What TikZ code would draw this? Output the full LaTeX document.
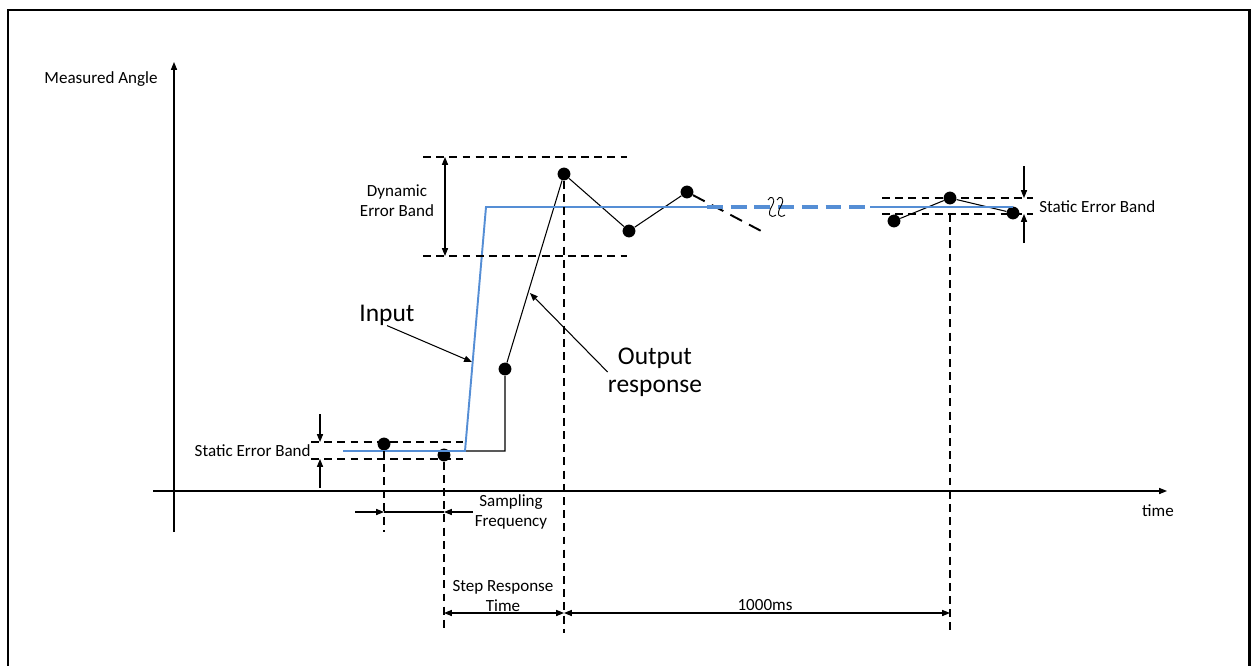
\documentclass[tikz,border=0pt]{standalone}
\usepackage{fontspec}
\setmainfont{Carlito}
\usepackage{tikz}
\usetikzlibrary{arrows.meta, positioning, calc}

\definecolor{inblue}{RGB}{85,142,213}

\begin{document}
\begin{tikzpicture}[x=0.02cm, y=-0.02cm,
    tip/.style={-{Triangle[length=4.5pt,width=3.5pt]}},
    dim/.style={line width=0.6pt, {Triangle[length=4.5pt,width=3.5pt]}-{Triangle[length=4.5pt,width=3.5pt]}},
    band/.style={line width=1.3pt, dash pattern=on 4.5pt off 3pt},
    dot/.style={circle, fill, inner sep=0pt, minimum size=7.3pt},
    lbl/.style={font=\fontsize{9.7}{11.3}\selectfont, align=center, inner sep=0pt},
    big/.style={font=\fontsize{14.5}{16}\selectfont, align=center, inner sep=0pt},
    input/.style={inblue, line width=1.1pt}]
        \useasboundingbox (0,0) rectangle (1251,666);
        \draw[line width=1.7pt] (8,666) -- (8,10) -- (1249,10) -- (1249,666);

        % axes
        \coordinate (ybot) at (174,532);
        \coordinate (ytop) at (174,62);
        \coordinate (xl) at (153,491);
        \coordinate (xr) at (1167,491);
        \draw[tip, line width=0.6pt] (ybot) -- (ytop);
        \draw[tip, line width=0.6pt] (xl) -- (xr);
        \node[lbl] (ylab) at (101,79) {Measured Angle};
        \node[lbl] (xlab) at (1158,511) {time};

        % input
        \coordinate (i0) at (343,451);
        \coordinate (i1) at (465,451);
        \coordinate (i2) at (486,207);
        \coordinate (i3) at (707,207);
        \coordinate (i4) at (870,207);
        \coordinate (i5) at (1013,207);

        % samples
        \node[dot] (d1) at (384,444) {};
        \node[dot] (d2) at (444,455) {};
        \node[dot] (d3) at (505,369) {};
        \node[dot] (d4) at (564,174) {};
        \node[dot] (d5) at (629,231) {};
        \node[dot] (d6) at (687,192) {};
        \node[dot] (d7) at (894,221) {};
        \node[dot] (d8) at (950,198) {};
        \node[dot] (d9) at (1013,213) {};
        \coordinate (o1) at (505,451);
        \coordinate (e1) at (765,233);

        \draw[line width=0.6pt] (i0) -- (o1) -- (d3) -- (d4) -- (d5) -- (d6);
        \draw[line width=1.1pt, dash pattern=on 7.5pt off 4.5pt] (d6) -- (e1);
        \draw[line width=0.6pt] (d7) -- (d8) -- (d9);
        \draw[input] (i0) -- (i1) -- (i2) -- (i3);
        \draw[input, line width=2pt, dash pattern=on 9pt off 4.5pt] (i3) -- (i4);
        \draw[input] (i4) -- (i5);
        \draw[line width=0.5pt] (768,200) .. controls (770,195) and (777,197) .. (772,206) .. controls (767,214) and (770,219) .. (776,215);
        \draw[line width=0.5pt] (777,200) .. controls (779,195) and (786,197) .. (781,206) .. controls (776,214) and (779,219) .. (785,215);

        % static band left
        \coordinate (sl1) at (311,442);
        \coordinate (sr1) at (463,442);
        \coordinate (sl2) at (311,459);
        \coordinate (sr2) at (463,459);
        \draw[band] (sl1) -- (sr1);
        \draw[band] (sl2) -- (sr2);
        \coordinate (sa1) at (320,414);
        \coordinate (sa2) at (320,488);
        \draw[tip, line width=0.6pt] (sa1) -- (sa1 |- sl1);
        \draw[tip, line width=0.6pt] (sa2) -- (sa2 |- sl2);
        \node[lbl, anchor=east] (sleft) at (311,451) {Static Error Band};

        % dynamic band
        \coordinate (dl1) at (423,157);
        \coordinate (dr1) at (627,157);
        \coordinate (dl2) at (423,256);
        \coordinate (dr2) at (627,256);
        \draw[band] (dl1) -- (dr1);
        \draw[band] (dl2) -- (dr2);
        \draw[dim] (445,157) -- (445,256);
        \node[lbl] (dyn) at (397,201) {Dynamic\\Error Band};

        % static band right
        \coordinate (rl1) at (882,198);
        \coordinate (rr1) at (1033,198);
        \coordinate (rl2) at (882,214);
        \coordinate (rr2) at (1033,214);
        \draw[band] (rl1) -- (rr1);
        \draw[band] (rl2) -- (rr2);
        \coordinate (ra1) at (1024,166);
        \coordinate (ra2) at (1024,243);
        \draw[tip, line width=0.6pt] (ra1) -- (ra1 |- rl1);
        \draw[tip, line width=0.6pt] (ra2) -- (ra2 |- rl2);
        \node[lbl, anchor=west] (sright) at (1039,207) {Static Error Band};

        % drop lines
        \coordinate (lowa) at (0,532);
        \coordinate (lowb) at (0,633);
        \draw[band] (d1) -- (d1 |- lowa);
        \draw[band] (d2) -- (d2 |- lowb);
        \draw[band] (d4) -- (d4 |- lowb);
        \draw[band] (d8 |- rl2) -- (d8 |- lowb);

        % timings
        \coordinate (sf0) at (355,512);
        \coordinate (sf1) at (473,512);
        \draw[line width=0.6pt] (d1 |- sf0) -- (d2 |- sf0);
        \draw[tip, line width=0.6pt] (sf0) -- (d1 |- sf0);
        \draw[tip, line width=0.6pt] (sf1) -- (d2 |- sf1);
        \node[lbl] (sfl) at (511,512) {Sampling\\Frequency};
        \coordinate (sr) at (0,613);
        \draw[dim] (d2 |- sr) -- (d4 |- sr);
        \draw[dim] (d4 |- sr) -- (d8 |- sr);
        \node[lbl] (srt) at (503,596) {Step Response\\Time};
        \node[lbl] (ms) at (765,605) {1000ms};

        % callouts
        \coordinate (inb) at (472,362);
        \coordinate (outb) at (530,293);
        \node[big] (inlab) at (387,315) {Input};
        \node[big] (outlab) at (655,372) {Output\\response};
        \draw[tip, line width=0.6pt] (inlab.south) -- (inb);
        \draw[tip, line width=0.6pt] (outlab.west) -- (outb);
    \end{tikzpicture}
\end{document}
